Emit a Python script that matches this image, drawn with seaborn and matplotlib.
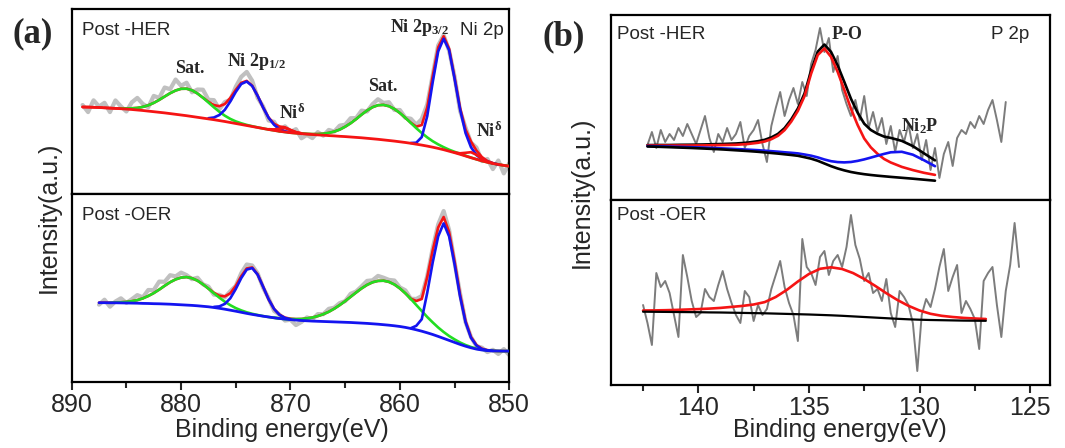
import numpy as np
import pandas as pd
import matplotlib
matplotlib.use("Agg")
import matplotlib.pyplot as plt
import seaborn as sns
from matplotlib.ticker import MultipleLocator

sns.set_style("white")
plt.rcParams["font.family"] = ["Liberation Sans", "DejaVu Sans"]
plt.rcParams["mathtext.fontset"] = "custom"
plt.rcParams["mathtext.rm"] = "Liberation Serif:bold"
plt.rcParams["mathtext.it"] = "Liberation Serif:bold"
plt.rcParams["mathtext.bf"] = "Liberation Serif:bold"

RED = "#f51414"
GREEN = "#22dd22"
BLUE = "#1414f0"
LIGHT_GRAY = "#c0c0c0"
DARK_GRAY = "#7c7c7c"

# ---------------- Ni 2p, post-HER (0.5 eV steps from 889 eV) ----------------
ni_her_start = 889.0
ni_her_background = [
    86.5, 86.4, 86.2, 86.0, 85.7, 85.4, 85.1, 84.8, 84.4, 84.0,
    83.5, 83.0, 82.4, 81.8, 81.2, 80.6, 79.9, 79.2, 78.5, 77.8,
    77.0, 76.2, 75.4, 74.6, 73.8, 72.9, 72.0, 71.0, 70.0, 69.0,
    68.0, 67.0, 66.0, 65.0, 64.0, 63.1, 62.2, 61.5, 60.8, 60.3,
    59.8, 59.4, 59.0, 58.6, 58.3, 57.9, 57.6, 57.2, 56.9, 56.5,
    56.1, 55.7, 55.2, 54.7, 54.2, 53.6, 53.0, 52.4, 51.7, 51.0,
    50.2, 49.3, 48.4, 47.4, 46.3, 45.1, 43.8, 42.3, 40.8, 39.2,
    37.5, 35.8, 34.2, 32.6, 31.2, 30.0, 29.0, 28.1, 27.3]
ni_her_residual = [
    2, -5, 7, 1, 5, -4, 8, 2, -3, 6,
    10, 3, -2, 7, 2, 9, 4, 11, 3, 6,
    -2, 4, 8, 2, 5, -3, 2, -2, 3, 6,
    9, 5, -2, 1, -3, 2, -4, 1, -2, 3,
    -5, -1, -4, 2, -2, 3, 0, 4, 2, 5,
    1, 4, -1, 3, 6, 2, 4, -1, 3, 0,
    4, 2, 6, 3, 1, 2, 1, -2, 1, -3,
    2, -1, 3, -4, 2, -6, 4, -8, 3]
# fitted components: (first energy, heights above background)
ni_her_sat1 = (885.5, [0.3, 0.6, 1.2, 2.1, 3.6, 5.8, 8.8, 12.4, 16.4, 20.4, 23.8, 26.2, 27.0,
                       26.2, 23.8, 20.4, 16.4, 12.4, 8.8, 5.8, 3.6, 2.1, 1.2, 0.6, 0.3, 0.1,
                       0.0, 0.0, 0.0, 0.0])
ni_her_p12 = (877.5, [0.7, 2.2, 5.6, 11.7, 21.0, 31.6, 40.5, 44.0, 40.5, 31.6, 21.0, 11.7,
                      5.6, 2.2, 0.7, 0.2])
ni_her_nid1 = (872.0, [0.3, 1.0, 2.6, 4.0, 2.6, 1.0, 0.3])
ni_her_sat2 = (871.0, [0, 0, 0, 0.05, 0.1, 0.2, 0.4, 0.8, 1.5, 2.7, 4.3, 6.7, 9.9, 13.8, 18.3,
                       23.2, 27.8, 31.6, 34.1, 35.0, 34.3, 32.1, 28.8, 24.7, 20.3, 16.0, 12.1,
                       8.7, 6.0, 4.0, 2.5, 1.5, 0.9, 0.5, 0.3, 0.1, 0, 0, 0, 0, 0, 0, 0])
ni_her_p32 = (859.0, [0.3, 1.5, 8.0, 30.0, 65.0, 97.0, 111.0, 101.0, 74.0, 45.0, 23.0, 10.5,
                      4.2, 1.6, 0.6, 0.2, 0.0])
ni_her_nid2 = (855.0, [0.2, 1.0, 3.2, 5.5, 4.5, 2.2, 0.7, 0.2])

# ---------------- Ni 2p, post-OER (0.5 eV steps from 887.5 eV) ----------------
ni_oer_start = 887.5
ni_oer_background = [
    79.0, 79.0, 78.9, 78.9, 78.8, 78.7, 78.6, 78.5, 78.3, 78.2,
    78.0, 77.9, 77.7, 77.5, 77.2, 76.9, 76.6, 76.3, 75.9, 75.4,
    74.9, 74.2, 73.4, 72.5, 71.5, 70.5, 69.4, 68.3, 67.3, 66.4,
    65.5, 64.7, 63.9, 63.2, 62.6, 62.1, 61.6, 61.2, 60.9, 60.6,
    60.4, 60.2, 60.0, 59.8, 59.6, 59.4, 59.2, 58.9, 58.6, 58.3,
    57.9, 57.5, 57.0, 56.5, 55.9, 55.2, 54.3, 53.2, 51.9, 50.5,
    48.9, 47.2, 45.3, 43.3, 41.3, 39.3, 37.3, 35.5, 33.9, 32.6,
    31.7, 31.1, 30.8, 30.7, 30.6, 30.6]
ni_oer_residual = [
    -2, 3, -4, 1, 4, -1, 2, 5, 1, 6,
    3, 8, 4, 7, 3, 5, 2, -1, 3, 0,
    2, -2, 1, -1, 2, 0, 3, 4, 2, 1,
    -1, 1, -2, 0, -3, -1, -6, -3, 1, -2,
    2, 0, 3, 1, 2, 0, 3, 1, 2, 4,
    2, 5, 3, 2, 4, 1, 3, 0, 2, 3,
    1, 2, 3, 6, 2, -1, 1, -1, 0, -1,
    1, -2, 1, -3, 2, -4]
ni_oer_sat1 = (886.5, [0.1, 0.3, 0.6, 1.1, 1.9, 3.1, 5.0, 7.5, 10.6, 14.2, 18.2, 22.0, 25.1,
                       27.2, 28.0, 27.2, 25.1, 22.0, 18.2, 14.2, 10.6, 7.5, 5.0, 3.1, 1.9,
                       1.1, 0.6, 0.3, 0.1, 0.0, 0.0, 0.0, 0.0, 0.0])
ni_oer_p12 = (877.0, [0.6, 1.9, 5.3, 11.9, 22.2, 34.2, 43.8, 46.3, 40.6, 29.4, 17.7, 8.8,
                      3.6, 1.2, 0.3])
ni_oer_sat2 = (871.5, [0.1, 0.2, 0.3, 0.6, 1.0, 1.5, 2.4, 3.6, 5.2, 7.3, 9.9, 13.2, 17.0,
                       21.2, 25.7, 30.3, 34.7, 38.5, 41.5, 43.3, 44.0,
                       43.3, 41.3, 38.1, 34.1, 29.5, 24.8, 20.2, 15.8, 12.1, 8.9, 6.4, 4.4,
                       3.0, 1.9, 1.2, 0.8, 0.5, 0.3, 0.2, 0.1, 0.0, 0.0, 0.0])
ni_oer_p32 = (859.0, [0.3, 4.0, 12.0, 40.0, 72.0, 100.0, 115.0, 104.0, 78.0, 48.0, 24.0,
                      10.0, 3.5, 1.0, 0.3, 0.0])

# ---------------- P 2p, post-HER ----------------
p_her_fit_energy = [142.3, 141.8, 141.3, 140.8, 140.3, 139.8, 139.3, 138.8, 138.3, 137.8,
                    137.3, 137.0, 136.7, 136.4, 136.1, 135.8, 135.5, 135.2, 134.9, 134.6,
                    134.3, 134.0, 133.7, 133.4, 133.1, 132.8, 132.5, 132.2, 131.9, 131.6,
                    131.3, 130.8, 130.3, 129.8, 129.3]
p_her_background = [53.5, 53.2, 52.8, 52.4, 52.0, 51.5, 51.0, 50.4, 49.7, 49.0,
                    48.2, 47.6, 47.0, 46.4, 45.7, 45.0, 44.2, 42.8, 41.3, 39.2,
                    36.5, 33.8, 31.5, 29.6, 28.0, 26.8, 25.8, 25.0, 24.3, 23.7,
                    23.1, 22.2, 21.3, 20.3, 19.3]
p_her_po = [1.0, 1.3, 1.6, 2.1, 2.5, 3.1, 3.8, 4.6, 5.5, 6.9,
            9.0, 10.9, 13.8, 17.8, 24.2, 33.4, 44.9, 61.0, 85.1, 105.8,
            115.0, 109.3, 96.6, 80.5, 63.3, 48.3, 35.7, 27.6, 21.9, 17.3,
            14.4, 10.9, 8.6, 6.9, 5.8]
p_her_ni2p = [0.4, 0.5, 0.6, 0.7, 0.8, 0.9, 1.0, 1.1, 1.3, 1.4,
              1.6, 1.7, 1.8, 1.9, 2.0, 2.2, 2.4, 2.7, 3.0, 3.4,
              4.0, 5.0, 6.4, 8.0, 10.0, 12.3, 14.8, 17.4, 20.0, 22.4,
              24.6, 26.0, 24.0, 19.5, 14.5]
p_her_data_start = 142.3  # 0.2 eV steps
p_her_data = [55, 68, 52, 70, 58, 66, 60, 72, 64, 76,
              66, 56, 70, 84, 62, 48, 66, 58, 72, 60,
              66, 78, 52, 64, 70, 80, 56, 38, 74, 92,
              108, 84, 100, 112, 96, 118, 104, 136, 150, 172,
              148, 162, 128, 144, 110, 96, 84, 100, 80, 104,
              72, 88, 68, 82, 56, 74, 48, 70, 58, 76,
              52, 66, 40, 60, 30, 52, 22, 46, 58, 34,
              62, 70, 66, 78, 72, 84, 76, 90, 100, 80,
              58, 98]

# ---------------- P 2p, post-OER ----------------
p_oer_fit_start = 142.5  # 0.5 eV steps
p_oer_background = [73.3, 73.2, 73.1, 73.0, 72.9, 72.8, 72.6, 72.5, 72.3, 72.1,
                    71.9, 71.7, 71.4, 71.1, 70.8, 70.5, 70.1, 69.7, 69.2, 68.6,
                    68.0, 67.4, 66.8, 66.2, 65.7, 65.3, 65.0, 64.8, 64.6, 64.4,
                    64.3, 64.2]
p_oer_po = [1.2, 1.4, 1.7, 2.1, 2.6, 3.1, 3.8, 4.6, 5.8, 7.0,
            8.6, 11.2, 16.6, 24.0, 32.7, 40.5, 46.1, 48.0, 46.8, 43.3,
            38.0, 31.7, 25.0, 18.8, 13.5, 9.2, 6.2, 4.4, 3.4, 2.7,
            2.2, 1.8]
p_oer_data_start = 142.5  # 0.2 eV steps
p_oer_data = [80, 62, 40, 112, 98, 104, 92, 70, 48, 130,
              108, 84, 68, 72, 96, 88, 84, 100, 114, 96,
              82, 70, 62, 94, 88, 64, 80, 70, 76, 96,
              110, 124, 98, 82, 70, 44, 146, 118, 112, 100,
              128, 134, 110, 124, 130, 118, 138, 170, 140, 126,
              104, 112, 92, 96, 84, 106, 72, 58, 94, 88,
              80, 62, 14, 70, 86, 78, 96, 118, 136, 94,
              108, 120, 72, 84, 76, 66, 36, 104, 112, 118,
              80, 48, 94, 120, 162, 118]


def steps(start, n, step):
    return np.round(start - step * np.arange(n), 2)


def line(ax, x, y, color, lw, z):
    sns.lineplot(x=np.asarray(x, float), y=np.asarray(y, float), ax=ax, color=color,
                 linewidth=lw, sort=False, estimator=None, zorder=z)


def ni_panel(ax, start, background, residual, comps, base_color):
    energy = steps(start, len(background), 0.5)
    bg = pd.Series(background, index=energy, dtype=float)
    total = bg.copy()
    drawn = []
    for (c_start, values), color, z in comps:
        e = steps(c_start, len(values), 0.5)
        part = pd.Series(values, index=e, dtype=float)
        total = total + part.reindex(energy, fill_value=0.0)
        drawn.append((e, bg.loc[e].values + part.values, color, z))
    line(ax, energy, total.values + np.asarray(residual, float), LIGHT_GRAY, 3.0, 1)
    line(ax, energy, total.values, RED, 1.9, 2)
    for e, y, color, z in drawn:
        line(ax, e, y, color, 1.9, z)
    line(ax, energy, bg.values, base_color, 2.0, 6)


fig = plt.figure(figsize=(10.65, 4.48), dpi=100)
ax_a1 = fig.add_axes([0.0673, 0.5670, 0.4109, 0.4122])
ax_a2 = fig.add_axes([0.0673, 0.1480, 0.4109, 0.4190])
ax_b1 = fig.add_axes([0.5737, 0.5536, 0.4122, 0.4129])
ax_b2 = fig.add_axes([0.5737, 0.1406, 0.4122, 0.4130])

ni_panel(ax_a1, ni_her_start, ni_her_background, ni_her_residual,
         [(ni_her_sat1, GREEN, 3), (ni_her_sat2, GREEN, 3),
          (ni_her_p12, BLUE, 4), (ni_her_p32, BLUE, 4),
          (ni_her_nid1, RED, 5), (ni_her_nid2, RED, 5)], RED)
ni_panel(ax_a2, ni_oer_start, ni_oer_background, ni_oer_residual,
         [(ni_oer_sat1, GREEN, 3), (ni_oer_sat2, GREEN, 3),
          (ni_oer_p12, BLUE, 4), (ni_oer_p32, BLUE, 4)], BLUE)

# P 2p post-HER
bg = np.asarray(p_her_background)
line(ax_b1, steps(p_her_data_start, len(p_her_data), 0.2), p_her_data, DARK_GRAY, 1.4, 1)
line(ax_b1, p_her_fit_energy, bg + np.asarray(p_her_po) + np.asarray(p_her_ni2p), "black", 1.9, 3)
line(ax_b1, p_her_fit_energy, bg + np.asarray(p_her_po), RED, 1.9, 4)
line(ax_b1, p_her_fit_energy, bg + np.asarray(p_her_ni2p), BLUE, 1.9, 4)
line(ax_b1, p_her_fit_energy, bg, "black", 1.9, 5)

# P 2p post-OER
bg = np.asarray(p_oer_background)
e_fit = steps(p_oer_fit_start, len(p_oer_background), 0.5)
line(ax_b2, steps(p_oer_data_start, len(p_oer_data), 0.2), p_oer_data, DARK_GRAY, 1.4, 1)
line(ax_b2, e_fit, bg + np.asarray(p_oer_po), RED, 1.9, 4)
line(ax_b2, e_fit, bg, "black", 1.6, 5)

for ax in (ax_a1, ax_a2):
    ax.set_xlim(890, 850)
for ax in (ax_b1, ax_b2):
    ax.set_xlim(143.95, 124.1)
ax_a1.set_ylim(-0.5, 184.2)
ax_a2.set_ylim(0, 187.7)
ax_b1.set_ylim(0, 185)
ax_b2.set_ylim(0, 185)

for ax in (ax_a1, ax_a2, ax_b1, ax_b2):
    ax.set_yticks([])
    ax.set_xlabel("")
    ax.set_ylabel("")
    for s in ax.spines.values():
        s.set_color("black")
        s.set_linewidth(1.6)
for ax in (ax_a1, ax_b1):
    ax.set_xticks([])
ax_a2.xaxis.set_major_locator(MultipleLocator(10))
ax_a2.xaxis.set_minor_locator(MultipleLocator(5))
ax_b2.xaxis.set_major_locator(MultipleLocator(5))
ax_b2.xaxis.set_minor_locator(MultipleLocator(2.5))
for ax in (ax_a2, ax_b2):
    ax.tick_params(axis="x", which="major", direction="out", length=6, width=1.5,
                   labelsize=18, pad=2, bottom=True)
    ax.tick_params(axis="x", which="minor", direction="out", length=4, width=1.5, bottom=True)

serif = dict(family="Liberation Serif", weight="bold", fontsize=13, ha="center", va="center")
sans = dict(fontsize=13.5, va="center")

ax_a1.text(0.0235, 0.888, "Post -HER", transform=ax_a1.transAxes, ha="left", **sans)
ax_a1.text(0.9376, 0.888, "Ni 2p", transform=ax_a1.transAxes, ha="center", **sans)
ax_a1.text(0.795, 0.90, r"Ni 2p$_{3/2}$", transform=ax_a1.transAxes, **serif)
ax_a1.text(0.2705, 0.677, "Sat.", transform=ax_a1.transAxes, **serif)
ax_a1.text(0.4234, 0.717, r"Ni 2p$_{1/2}$", transform=ax_a1.transAxes, **serif)
ax_a1.text(0.5046, 0.436, r"Ni$^{\mathrm{\delta}}$", transform=ax_a1.transAxes, **serif)
ax_a1.text(0.7114, 0.582, "Sat.", transform=ax_a1.transAxes, **serif)
ax_a1.text(0.9536, 0.338, r"Ni$^{\mathrm{\delta}}$", transform=ax_a1.transAxes, **serif)
ax_a2.text(0.0235, 0.888, "Post -OER", transform=ax_a2.transAxes, ha="left", **sans)

ax_b1.text(0.0137, 0.892, "Post -HER", transform=ax_b1.transAxes, ha="left", **sans)
ax_b1.text(0.909, 0.892, "P 2p", transform=ax_b1.transAxes, ha="center", **sans)
ax_b1.text(0.538, 0.892, "P-O", transform=ax_b1.transAxes, **serif)
ax_b1.text(0.704, 0.397, r"Ni$_{2}$P", transform=ax_b1.transAxes, **serif)
ax_b2.text(0.0137, 0.9135, "Post -OER", transform=ax_b2.transAxes, ha="left", **sans)

fig.text(0.031, 0.924, "(a)", family="Liberation Serif", weight="bold", fontsize=25,
         ha="center", va="center")
fig.text(0.529, 0.918, "(b)", family="Liberation Serif", weight="bold", fontsize=25,
         ha="center", va="center")
fig.text(0.265, 0.040, "Binding energy(eV)", fontsize=18, ha="center", va="center")
fig.text(0.789, 0.040, "Binding energy(eV)", fontsize=18, ha="center", va="center")
fig.text(0.046, 0.515, "Intensity(a.u.)", fontsize=18, rotation=90, ha="center", va="center")
fig.text(0.546, 0.570, "Intensity(a.u.)", fontsize=18, rotation=90, ha="center", va="center")

fig.savefig("out.png", dpi=100)
